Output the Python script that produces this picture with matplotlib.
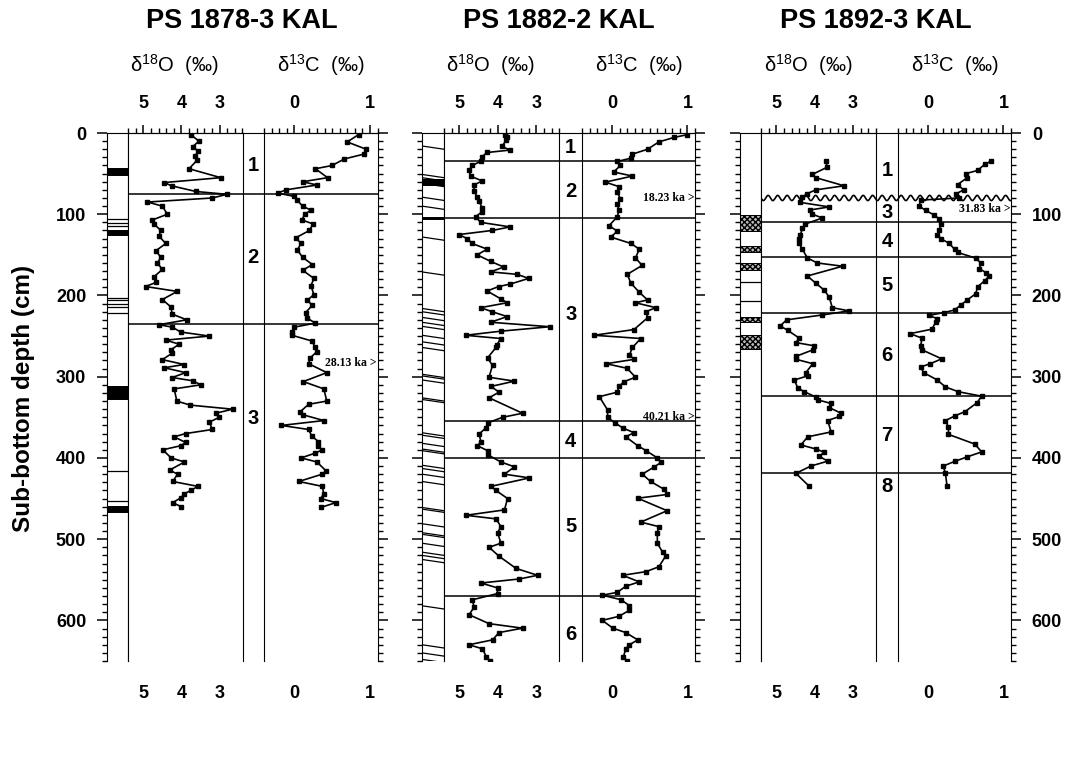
import matplotlib
matplotlib.use("Agg")
import matplotlib.pyplot as plt
import matplotlib.transforms as mtransforms
from matplotlib.ticker import MultipleLocator
import numpy as np

plt.rcParams['font.family'] = ['Liberation Sans', 'DejaVu Sans']
plt.rcParams['mathtext.default'] = 'regular'

# ---------------- data ----------------
core_names = ["PS 1878-3 KAL", "PS 1882-2 KAL", "PS 1892-3 KAL"]

# PS 1878-3
c1_o_depth = [2, 10, 17, 22, 28, 33, 44, 55, 61, 65, 72, 75.5, 80, 85, 90, 100, 107, 112, 120, 127,
              136, 145, 153, 160, 168, 177, 184, 189, 195, 205, 214, 223, 230, 236, 239, 245, 250,
              255, 260, 267, 271, 279, 285, 289, 295, 301, 305, 310, 315, 330, 335, 340, 345, 350,
              356, 365, 370, 374, 381, 385, 390, 400, 405, 415, 420, 429, 435, 440, 444, 449, 455, 460]
c1_o = [3.76, 3.54, 3.71, 3.56, 3.64, 3.58, 3.80, 2.97, 4.45, 4.26, 3.62, 2.81, 3.19, 4.89, 4.50,
        4.37, 4.76, 4.72, 4.54, 4.59, 4.41, 4.67, 4.54, 4.63, 4.50, 4.72, 4.67, 4.94, 4.11, 4.50,
        4.28, 4.24, 3.86, 4.59, 4.24, 4.02, 3.27, 4.41, 4.06, 4.28, 4.24, 4.50, 3.93, 4.45, 3.89,
        4.24, 3.71, 3.49, 4.19, 4.12, 3.77, 2.66, 3.10, 3.01, 3.27, 3.19, 3.89, 4.19, 3.89, 4.02,
        4.49, 4.27, 3.92, 4.31, 4.10, 4.23, 3.57, 3.75, 3.92, 4.01, 4.23, 4.01]
c1_c_depth = [2, 11, 20, 26, 32, 40, 44, 55, 60, 64, 70, 74, 78, 83, 90, 95, 100, 107, 112, 120,
              129, 136, 144, 153, 162, 169, 179, 188, 199, 206, 212, 221, 228, 234, 239, 245, 249,
              256, 264, 269, 277, 284, 295, 306, 315, 330, 334, 343, 347, 354, 360, 365, 373, 380,
              385, 390, 394, 400, 405, 416, 420, 429, 435, 444, 450, 455, 461]
c1_c = [0.85, 0.70, 0.95, 0.92, 0.66, 0.50, 0.28, 0.44, 0.11, 0.30, -0.11, -0.22, 0.00, 0.04, 0.11,
        0.22, 0.14, 0.10, 0.25, 0.20, 0.02, 0.09, 0.04, 0.11, 0.24, 0.11, 0.26, 0.22, 0.26, 0.17,
        0.24, 0.15, 0.17, 0.28, 0.00, -0.03, -0.03, 0.23, 0.28, 0.30, 0.21, 0.19, 0.43, 0.12, 0.39,
        0.43, 0.19, 0.08, 0.12, 0.39, -0.17, 0.19, 0.23, 0.32, 0.31, 0.37, 0.28, 0.09, 0.30, 0.42,
        0.37, 0.06, 0.37, 0.39, 0.35, 0.55, 0.35]
c1_zones = [75, 235]
c1_zone_text = ["1", "2", "3"]
c1_zone_depth = [40, 153, 352]
c1_ages = [(283, "28.13 ka >")]
c1_lith_bands = [(43, 52), (119, 125), (312, 328), (459, 467)]
c1_lith_lines = [106, 111, 115, 203, 206, 210, 214, 221, 416, 453]

# PS 1882-2
c2_o_depth = [2, 5.5, 9, 16.5, 21, 24, 29, 35, 40, 46, 53, 59, 64, 71.5, 79, 84, 92, 97, 103, 110,
              115.6, 120, 125, 130, 136, 143, 150, 158, 165, 171, 174, 179, 186, 189, 194.5, 204,
              209, 215, 220, 226, 233, 238.5, 244, 249, 253, 260.5, 264, 277, 286, 300.7, 305.5,
              312, 319, 326, 345, 350, 357, 363, 370.6, 380, 385, 391, 396, 405, 411, 420, 424.6,
              435, 440, 450, 464, 470.6, 475, 484.6, 492, 505, 510, 521, 536, 544.5, 549, 554, 560,
              567, 574.6, 584, 593, 604, 609.6, 615, 624, 630, 635, 645, 650]
c2_o = [3.81, 3.76, 3.78, 3.90, 3.68, 4.28, 4.41, 4.45, 4.67, 4.75, 4.71, 4.41, 4.62, 4.62, 4.54,
        4.49, 4.41, 4.41, 4.58, 4.45, 3.68, 4.15, 5.01, 4.80, 4.67, 4.28, 4.54, 4.19, 3.85, 4.19,
        3.50, 3.20, 3.68, 3.98, 4.28, 3.93, 3.76, 4.45, 4.15, 3.76, 4.19, 2.65, 3.93, 4.84, 3.93,
        4.02, 4.05, 4.27, 4.14, 4.23, 3.57, 4.18, 3.97, 4.23, 3.36, 3.88, 4.27, 4.31, 4.49, 4.44,
        4.53, 4.27, 4.27, 3.92, 3.57, 3.83, 3.18, 4.18, 4.05, 3.75, 3.83, 4.83, 4.05, 3.92, 4.01,
        3.92, 4.23, 3.97, 3.53, 2.97, 3.44, 4.44, 4.01, 4.01, 4.66, 4.62, 4.75, 4.23, 3.36, 3.97,
        4.14, 4.75, 4.40, 4.30, 4.20]
c2_c_depth = [2, 5.5, 11, 20, 26, 31, 35, 40, 48, 53, 60.5, 66, 73, 81, 88, 95, 103, 114, 121, 128,
              136, 143, 154, 163, 174, 185, 196, 205.5, 209, 215, 220, 227.5, 242, 249, 253, 264,
              273, 278.7, 284, 289.7, 300.7, 306, 312, 319, 324.6, 341, 350, 357, 363, 369, 374,
              385, 391, 400, 405.5, 411, 420, 429, 438.6, 445, 449.6, 465, 479, 484.6, 492, 505,
              516, 521, 534, 540, 544.5, 552.6, 558, 565.4, 569, 574.6, 582, 587.5, 595, 600, 609.6,
              615, 624, 630, 635, 645, 650]
c2_c = [1.00, 0.82, 0.62, 0.47, 0.27, 0.25, 0.07, 0.11, 0.02, 0.27, -0.09, 0.09, 0.07, 0.11, 0.07,
        0.09, 0.07, -0.04, 0.07, -0.02, 0.25, 0.36, 0.31, 0.40, 0.20, 0.25, 0.36, 0.47, 0.31, 0.58,
        0.45, 0.47, 0.29, -0.24, 0.38, 0.27, 0.23, 0.29, -0.08, 0.20, 0.31, 0.16, 0.09, 0.07,
        -0.17, -0.06, -0.06, 0.04, 0.14, 0.29, 0.18, 0.34, 0.45, 0.60, 0.65, 0.56, 0.40, 0.51,
        0.69, 0.73, 0.34, 0.73, 0.38, 0.62, 0.60, 0.60, 0.67, 0.71, 0.62, 0.45, 0.14, 0.36, 0.18,
        0.07, -0.13, 0.12, 0.23, 0.23, 0.09, -0.13, 0.01, 0.18, 0.34, 0.23, 0.18, 0.15, 0.20]
c2_zones = [35, 105, 355, 400, 570]
c2_zone_text = ["1", "2", "3", "4", "5", "6"]
c2_zone_depth = [18, 72, 224, 380, 485, 617]
c2_ages = [(80, "18.23 ka >"), (350, "40.21 ka >")]
c2_lith_bands = [(57, 64), (103, 106)]
c2_lith_lines = [16, 51, 55, 59, 62, 79, 90, 128, 171, 216, 220, 227, 233, 238, 249, 257, 264,
                 297, 299, 304, 326, 328, 369, 372, 382, 389, 391, 409, 413, 420, 429, 461, 463,
                 481, 492, 494, 505, 516, 520, 525, 582, 630, 640, 648]

# PS 1892-3
c3_o_depth = [35, 42, 51, 55, 65, 70, 74.5, 79, 85.5, 91, 94.7, 100, 104.6, 112, 117.4, 125, 130,
              136, 143, 154, 160, 164, 176, 185, 193, 202, 215, 219, 224, 230, 237.5, 243, 252.6,
              258, 262, 267, 275, 278.5, 284, 295, 299, 304, 314, 318.5, 325, 328.5, 333, 338, 345,
              349, 354, 368, 374, 384, 389, 393, 398, 404, 410, 419, 435]
c3_o = [3.71, 3.67, 4.06, 3.97, 3.23, 3.97, 4.19, 4.32, 4.37, 3.62, 4.11, 4.06, 3.80, 4.24, 4.32,
        4.37, 4.41, 4.41, 4.32, 4.19, 3.93, 3.27, 4.19, 3.97, 3.76, 3.62, 3.54, 3.10, 3.80, 4.73,
        4.90, 4.70, 4.40, 4.49, 4.01, 4.05, 4.49, 4.49, 4.05, 4.23, 4.18, 4.53, 4.44, 4.27, 3.97,
        3.92, 3.57, 3.62, 3.31, 3.36, 3.66, 3.57, 4.18, 4.36, 3.97, 3.75, 3.88, 3.66, 4.10, 4.49,
        4.14]
c3_c_depth = [35, 38.5, 46, 50, 55, 63.5, 70, 75, 80, 82.6, 90, 95.4, 101, 106, 112, 119, 125, 130,
              136, 143, 147, 154, 160, 167, 172, 176, 182, 189, 198, 205.5, 212, 218, 221, 224.6,
              228.5, 233, 241.5, 247, 252.6, 262, 267, 278, 284, 288, 295, 304, 312.6, 318.5, 324,
              332, 343, 348, 354, 362, 371, 383, 392.6, 399, 404, 410, 419, 434]
c3_c = [0.83, 0.75, 0.66, 0.50, 0.52, 0.39, 0.47, 0.37, 0.41, -0.10, -0.12, -0.03, 0.08, 0.15,
        0.17, 0.15, 0.12, 0.17, 0.28, 0.35, 0.39, 0.63, 0.70, 0.68, 0.77, 0.81, 0.75, 0.66, 0.63,
        0.52, 0.43, 0.35, 0.21, 0.01, 0.12, 0.10, 0.05, -0.24, -0.08, -0.10, -0.08, 0.18, 0.03,
        -0.10, -0.06, 0.12, 0.23, 0.40, 0.71, 0.65, 0.49, 0.36, 0.23, 0.27, 0.27, 0.62, 0.71,
        0.51, 0.36, 0.20, 0.23, 0.25]
c3_zones = [109, 153, 221, 324, 419]
c3_hiatus = 80
c3_zone_text = ["1", "3", "4", "5", "6", "7", "8"]
c3_zone_depth = [46, 98, 133, 188, 274, 372, 435]
c3_ages = [(93, "31.83 ka >")]
c3_lith_bands = [(101, 121), (139, 147), (160, 169), (227, 233), (249, 266)]
c3_lith_lines = [183, 207]

o_ticks = [5, 4, 3]
c_ticks = [0, 1]
depth_ticks = [0, 100, 200, 300, 400, 500, 600]

# ---------------- layout (pixels) ----------------
W, H = 1070, 761
TOP, BOT = 133, 661
DEPTH_MAX = 650
fig = plt.figure(figsize=(W / 100, H / 100), dpi=100)

# lith left, lith right / d18O left, d18O right, d13C left, d13C right
layout = [
    (107, 128, 242.5, 264, 377.5),
    (422, 444, 559.5, 582, 695),
    (740, 761, 876, 898, 1011),
]

cores = [
    (c1_o_depth, c1_o, c1_c_depth, c1_c, c1_zones, c1_zone_text, c1_zone_depth, c1_ages,
     c1_lith_bands, c1_lith_lines, None),
    (c2_o_depth, c2_o, c2_c_depth, c2_c, c2_zones, c2_zone_text, c2_zone_depth, c2_ages,
     c2_lith_bands, c2_lith_lines, None),
    (c3_o_depth, c3_o, c3_c_depth, c3_c, c3_zones, c3_zone_text, c3_zone_depth, c3_ages,
     c3_lith_bands, c3_lith_lines, c3_hiatus),
]
lith_tilt = [0, 4, 0]
lith_hatch = ['||||||||||||', '||||||||||||', 'xxxxxx']

LW = 1.2


def px_axes(x0, x1):
    return fig.add_axes([x0 / W, 1 - BOT / H, (x1 - x0) / W, (BOT - TOP) / H])


def depth_axis(ax, side, labels):
    ax.set_ylim(DEPTH_MAX, 0)
    ax.set_yticks(depth_ticks, labels=[str(d) for d in depth_ticks], fontsize=13, fontweight='bold')
    ax.yaxis.set_minor_locator(MultipleLocator(10))
    ax.tick_params(axis='y', which='major', direction='out', length=7, width=1.1, pad=8)
    ax.tick_params(axis='y', which='minor', direction='out', length=3.8, width=1.0)
    if side == 'right':
        ax.tick_params(axis='y', which='both', left=False, right=True,
                       labelleft=False, labelright=labels)
    else:
        ax.tick_params(axis='y', which='both', left=True, right=False,
                       labelleft=labels, labelright=False)


def value_axis(ax, lims, ticks, minor):
    ax.set_xlim(*lims)
    ax.xaxis.tick_top()
    ax.set_xticks(ticks, labels=[str(t) for t in ticks], fontsize=13, fontweight='bold')
    ax.xaxis.set_minor_locator(MultipleLocator(minor))
    ax.tick_params(axis='x', which='major', direction='out', length=6, width=1.1, pad=9)
    ax.tick_params(axis='x', which='minor', direction='out', length=3.5, width=1.0)
    ax.spines['bottom'].set_visible(False)
    sec = ax.secondary_xaxis('bottom')
    sec.set_xticks(ticks, labels=[str(t) for t in ticks], fontsize=13, fontweight='bold')
    sec.tick_params(length=0, pad=17)
    sec.spines['bottom'].set_visible(False)


for i, core in enumerate(cores):
    (o_depth, o_vals, c_depth, c_vals, zones, zone_text, zone_depth, ages,
     bands, lines, hiatus) = core
    lx0, lx1, ox1, cx0, cx1 = layout[i]

    # lithology column
    lax = px_axes(lx0, lx1)
    lax.set_xlim(0, 1)
    depth_axis(lax, 'left', i == 0)
    lax.set_xticks([])
    lax.spines['bottom'].set_visible(False)
    for top, bot in bands:
        lax.axhspan(top, bot, facecolor='#bbbbbb', edgecolor='black', hatch=lith_hatch[i], lw=0.7)
    for d in lines:
        lax.plot([0, 1], [d, d + lith_tilt[i]], color='black', lw=0.9)

    # d18O
    oax = px_axes(lx1, ox1)
    oax.set_ylim(DEPTH_MAX, 0)
    oax.tick_params(axis='y', which='both', left=False, labelleft=False)
    value_axis(oax, (5.4, 2.4), o_ticks, 0.2)
    oax.plot(o_vals, o_depth, '-s', color='black', lw=LW, ms=3.5)

    # d13C
    cax = px_axes(cx0, cx1)
    depth_axis(cax, 'right', i == 2)
    value_axis(cax, (-0.4, 1.1), c_ticks, 0.1)
    cax.plot(c_vals, c_depth, '-s', color='black', lw=LW, ms=3.5)
    trans = mtransforms.blended_transform_factory(cax.transAxes, cax.transData)
    for d, s in ages:
        cax.text(0.995, d, s, transform=trans, ha='right', va='center', fontsize=8.5,
                 family=['Liberation Serif', 'DejaVu Serif'], fontweight='bold')

    # overlay for zone boundaries and labels
    span = cx1 - lx1
    ov = px_axes(lx1, cx1)
    ov.set_xlim(0, span)
    ov.set_ylim(DEPTH_MAX, 0)
    ov.set_xticks([])
    ov.set_yticks([])
    ov.patch.set_visible(False)
    for side in ['left', 'right', 'bottom']:
        ov.spines[side].set_visible(False)
    ov.hlines(zones, 0, span, color='black', lw=1.1)
    gap_mid = (ox1 + cx0) / 2 - lx1
    for s, d in zip(zone_text, zone_depth):
        ov.text(gap_mid, d, s, ha='center', va='center', fontsize=14.5, fontweight='bold')
    if hiatus is not None:
        xs = np.linspace(0, span, 600)
        ov.plot(xs, hiatus + 3.2 * np.sin(2 * np.pi * xs / 9.5), color='black', lw=1.2)

    # titles and headers
    fig.text((lx0 + cx1) / 2 / W, 1 - 21 / H, core_names[i], ha='center', va='center',
             fontsize=19.5, fontweight='bold')
    fig.text((lx0 + ox1) / 2 / W, 1 - 65 / H, 'δ$^{18}$O  (‰)', ha='center', va='center',
             fontsize=14.5)
    fig.text((cx0 + cx1) / 2 / W, 1 - 65 / H, 'δ$^{13}$C  (‰)', ha='center', va='center',
             fontsize=14.5)

fig.text(24 / W, 1 - 398 / H, 'Sub-bottom depth (cm)', rotation=90, ha='center', va='center',
         fontsize=17.5, fontweight='bold')

fig.savefig('out.png', dpi=100)
